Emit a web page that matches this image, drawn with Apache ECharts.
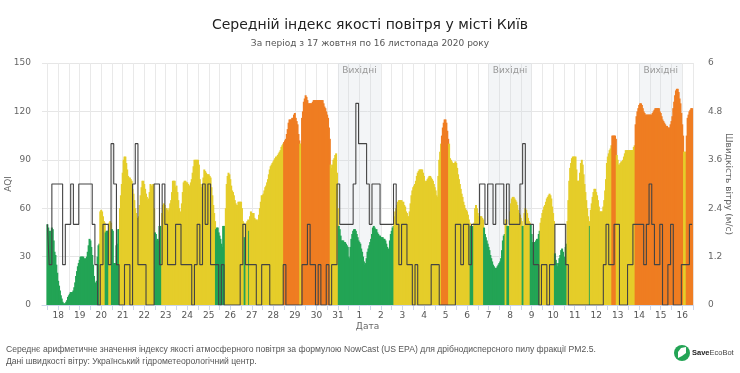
<!DOCTYPE html>
<html>
<head>
<meta charset="utf-8">
<script src="https://cdn.jsdelivr.net/npm/echarts@6/dist/echarts.min.js"></script>
<style>
  html, body { margin: 0; padding: 0; background: #fff; }
  #chart { width: 740px; height: 373px; }
</style>
</head>
<body>
<div id="chart"></div>
<script>
var dayLabels = ['18','19','20','21','22','23','24','25','26','27','28','29','30','31','1','2','3','4','5','6','7','8','9','10','11','12','13','14','15','16']

// hourly AQI, one row per day
var aqi = [
  50,48,46,44,46,48,47,40,33,31,25,20,15,12,9,6,4,2,1,1,1,2,3,5,
  6,7,8,8,8,9,11,14,18,21,24,26,28,30,30,30,30,29,28,29,30,33,37,41,
  40,36,31,25,18,13,14,15,30,37,38,58,59,58,55,52,51,45,46,46,46,51,52,51,
  47,46,26,26,26,37,38,47,47,60,68,75,82,90,92,92,88,84,80,79,79,78,77,72,
  69,65,60,57,54,52,55,62,68,73,77,77,75,72,69,67,65,66,70,75,74,74,75,60,
  45,44,40,41,40,49,49,49,57,62,63,62,60,60,59,58,60,63,65,70,77,77,77,73,
  74,70,65,60,57,58,63,70,76,77,77,76,76,75,74,74,76,78,82,86,90,90,90,90,
  90,87,78,75,73,71,79,84,83,82,81,81,81,80,79,73,68,62,57,52,47,48,48,45,
  43,41,38,36,49,49,49,60,75,80,82,81,78,74,71,70,68,65,63,62,62,64,64,64,
  64,60,52,51,42,42,51,52,53,46,55,58,57,57,57,54,53,53,52,53,56,60,64,68,
  68,69,71,73,74,76,78,81,84,86,87,88,89,90,91,92,92,93,94,95,96,98,99,100,
  101,102,103,106,109,113,115,115,115,116,116,118,119,116,114,112,106,102,100,100,116,120,126,128,
  130,129,127,125,125,125,125,125,126,127,127,127,127,127,127,127,127,127,127,127,125,123,122,120,
  118,116,110,103,87,85,87,90,91,93,94,82,60,49,47,43,40,40,40,39,39,38,37,36,
  30,29,36,41,44,46,47,47,46,44,42,40,39,38,35,33,30,27,25,26,29,33,35,37,
  39,41,44,48,49,48,47,47,45,44,43,43,42,42,42,41,41,40,38,36,34,35,40,44,
  46,48,49,55,58,60,62,64,65,65,65,65,64,64,62,61,58,57,55,55,58,63,68,71,
  73,74,75,77,80,82,83,84,84,84,84,82,80,77,76,77,78,79,80,80,79,78,77,75,
  73,71,68,67,80,90,95,100,105,110,113,115,115,113,108,103,100,91,90,89,88,88,88,89,
  88,85,81,78,75,72,69,67,64,62,60,59,58,56,53,51,49,49,49,49,51,60,62,60,
  57,55,55,55,55,54,53,48,44,42,40,38,36,34,31,29,27,25,24,23,23,23,24,25,
  26,27,29,34,40,43,44,53,53,49,49,49,58,63,66,67,67,66,65,64,62,59,57,56,
  54,52,49,49,57,60,59,57,54,52,51,50,44,39,39,39,39,40,41,41,44,46,51,54,
  57,59,61,62,64,66,67,68,69,68,66,61,57,52,32,28,26,24,26,29,31,34,35,33,
  29,30,36,38,52,65,77,85,88,91,92,92,92,92,84,77,77,77,82,88,90,87,81,75,
  70,65,60,55,52,49,59,63,67,70,72,72,70,68,65,61,58,58,58,58,61,65,71,78,
  88,92,94,96,97,99,105,105,105,105,103,93,90,87,87,88,89,89,90,92,94,96,96,96,
  96,96,96,96,96,96,98,99,112,117,120,122,124,125,125,124,122,120,119,118,118,118,118,118,
  118,118,118,119,120,121,122,122,122,122,122,120,119,117,115,114,113,112,111,111,110,110,110,112,
  114,117,122,126,130,133,134,134,132,128,125,119,112,105,95,95,95,105,116,118,120,121,122,122
]

// wind speed, m/s, every 3 hours, one row per day
var wind = [
  2,1,3,3,3,3,1,2,
  2,3,2,2,3,3,3,3,
  3,2,1,0,1,2,2,1,
  4,3,1,0,0,1,1,0,
  3,4,1,1,1,0,0,0,
  3,3,1,3,2,1,1,1,
  2,2,1,1,1,1,0,1,
  2,1,3,2,3,1,1,1,
  0,1,0,0,0,0,0,0,
  1,2,1,1,1,1,0,0,
  1,1,1,0,0,0,0,0,
  1,0,0,0,0,0,0,1,
  1,2,1,1,0,1,0,0,
  1,0,1,1,3,2,2,2,
  2,2,3,5,4,4,4,3,
  2,3,3,3,2,2,2,2,
  2,3,2,1,2,2,1,1,
  0,1,0,0,0,0,0,1,
  1,1,0,0,0,0,0,0,
  2,2,1,2,2,1,2,2,
  2,3,3,2,3,3,2,3,
  3,3,2,3,2,2,2,2,
  3,4,2,2,2,1,1,0,
  1,1,0,1,1,2,2,2,
  2,1,0,0,0,0,0,0,
  0,0,0,0,0,0,0,1,
  2,1,1,2,2,0,0,0,
  1,1,2,2,2,2,1,2,
  3,2,1,1,2,0,0,1,
  2,0,0,0,1,1,1,2
]

var weekendStartDays = [13, 20, 27]

var leftPad = 6
var rightPad = 1
var hours = dayLabels.length * 24

var categories = []
for (var c = 0; c < leftPad + hours + rightPad; c++) {
  var h = c - leftPad
  categories.push(h >= 0 && h < hours && h % 24 === 12 ? dayLabels[(h - 12) / 24] : '')
}

function aqiColor(v) {
  if (v <= 50) return '#23a455'
  if (v <= 100) return '#e5cd2a'
  return '#ef7d22'
}

var aqiData = aqi.map(function(v, h) {
  return { value: [leftPad + h, v], itemStyle: { color: aqiColor(v) } }
})

var windData = wind.map(function(v, i) {
  return [leftPad + Math.max(0, 3 * i - 1), v]
})
windData.push([leftPad + hours - 1, wind[wind.length - 1]])

var bands = weekendStartDays.map(function(d) {
  return [leftPad + d * 24 + 12, leftPad + (d + 2) * 24 + 12]
})

function isHalfDay(i) {
  return i >= leftPad && i <= leftPad + hours && (i - leftPad) % 12 === 0
}

var font = '"DejaVu Sans", sans-serif'
var smallFont = '"Liberation Sans", sans-serif'
var myChart = echarts.init(document.getElementById('chart'))

myChart.setOption({
  animation: false,
  textStyle: { fontFamily: font },
  title: [
    {
      text: 'Середній індекс якості повітря у місті Київ',
      left: 'center',
      top: 13,
      textStyle: { fontFamily: font, fontSize: 14, fontWeight: 'normal', color: '#222' }
    },
    {
      text: 'За період з 17 жовтня по 16 листопада 2020 року',
      left: 'center',
      top: 34,
      textStyle: { fontFamily: font, fontSize: 9, fontWeight: 'normal', color: '#555' }
    }
  ],
  grid: { left: 42, right: 47, top: 63, bottom: 68, outerBoundsMode: 'none' },
  xAxis: {
    type: 'category',
    data: categories,
    boundaryGap: false,
    name: 'Дата',
    nameLocation: 'middle',
    nameGap: 17,
    nameMoveOverlap: false,
    nameTextStyle: { fontFamily: font, color: '#666', fontSize: 9 },
    axisLine: { lineStyle: { color: '#ccd6eb' } },
    axisTick: { interval: function(i) { return isHalfDay(i) }, length: 5, lineStyle: { color: '#ccd6eb' } },
    axisLabel: { interval: function(i) { return (i - leftPad) % 24 === 12 }, fontFamily: font, color: '#555', fontSize: 9, margin: 6 },
    splitLine: { show: true, interval: function(i) { return isHalfDay(i) }, lineStyle: { color: '#e9e9e9' } }
  },
  yAxis: [
    {
      type: 'value',
      min: 0,
      max: 150,
      interval: 30,
      name: 'AQI',
      nameLocation: 'middle',
      nameGap: 29,
      nameMoveOverlap: false,
      nameTextStyle: { fontFamily: font, color: '#666', fontSize: 9 },
      axisLabel: { fontFamily: font, color: '#666', fontSize: 9, margin: 11 },
      splitLine: { lineStyle: { color: '#e6e6e6' } }
    },
    {
      type: 'value',
      min: 0,
      max: 6,
      interval: 1.2,
      name: 'Швидкість вітру (м/с)',
      nameLocation: 'middle',
      nameGap: 31,
      nameRotate: -90,
      nameMoveOverlap: false,
      nameTextStyle: { fontFamily: font, color: '#666', fontSize: 9 },
      axisLabel: { fontFamily: font, color: '#666', fontSize: 9, margin: 15 },
      splitLine: { show: false }
    }
  ],
  series: [
    {
      name: 'Вихідні',
      type: 'custom',
      z: 1,
      silent: true,
      data: bands,
      encode: { x: [0, 1] },
      renderItem: function(params, api) {
        var a = api.coord([api.value(0), 150])
        var b = api.coord([api.value(1), 0])
        return {
          type: 'group',
          children: [
            {
              type: 'rect',
              shape: { x: a[0], y: a[1], width: b[0] - a[0], height: b[1] - a[1] },
              style: { fill: 'rgba(205,212,222,0.24)' }
            },
            {
              type: 'text',
              x: (a[0] + b[0]) / 2,
              y: a[1] + 8,
              style: { text: 'Вихідні', fontFamily: font, fontSize: 9, fill: '#999', align: 'center', verticalAlign: 'middle' }
            }
          ]
        }
      }
    },
    {
      name: 'AQI',
      type: 'bar',
      z: 2,
      data: aqiData,
      barWidth: 2
    },
    {
      name: 'Швидкість вітру',
      type: 'line',
      z: 3,
      yAxisIndex: 1,
      step: 'end',
      data: windData,
      symbol: 'none',
      lineStyle: { color: '#444', width: 1.1 }
    }
  ],
  graphic: [
    {
      type: 'text',
      left: 6,
      top: 344,
      style: {
        text: 'Середнє арифметичне значення індексу якості атмосферного повітря за формулою NowCast (US EPA) для дрібнодисперсного пилу фракції PM2.5.\nДані швидкості вітру: Український гідрометеорологічний центр.',
        fontFamily: smallFont,
        fontSize: 8.6,
        lineHeight: 11.5,
        fill: '#555'
      }
    },
    {
      type: 'circle',
      shape: { cx: 682, cy: 353, r: 8 },
      style: { fill: '#23a455' }
    },
    {
      type: 'polygon',
      shape: { points: [[678, 358], [678, 352], [681, 348], [686, 347], [686, 353], [682, 356]] },
      style: { fill: '#fff' }
    },
    {
      type: 'text',
      left: 692,
      top: 349,
      style: {
        text: '{b|Save}{n|EcoBot}',
        rich: {
          b: { fontFamily: smallFont, fontSize: 7.5, fontWeight: 'bold', fill: '#222' },
          n: { fontFamily: smallFont, fontSize: 7.5, fill: '#444' }
        }
      }
    }
  ]
})
</script>
</body>
</html>
